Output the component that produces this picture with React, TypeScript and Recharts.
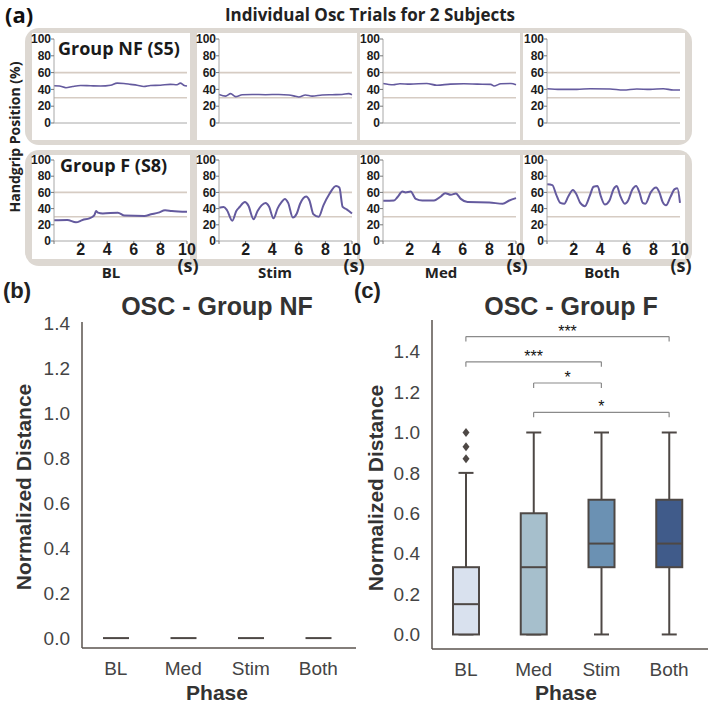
import React from "react";
import { ComposedChart, LineChart, Line, Bar, XAxis, YAxis, ReferenceLine } from "recharts";

// ---- panel (a): handgrip position traces, [time (s), position (%)] ----
const nfBaseline = [[0, 44.3], [0.4, 44], [0.9, 42], [1.4, 43.5], [2, 44.7], [2.75, 44.3], [3.5, 44], [4.25, 45], [4.75, 47.5], [5.25, 47], [5.75, 46], [6.25, 45], [6.75, 43.5], [7.25, 44.7], [8, 45], [8.75, 46], [9.25, 45.5], [9.5, 47.5], [9.75, 45], [10, 44]];
const nfStim = [[0, 34], [0.5, 32], [0.875, 35], [1.25, 31.4], [1.75, 33.7], [2.5, 34], [3.5, 33.7], [4.5, 34], [5.25, 33.3], [5.75, 31.8], [6, 31], [6.5, 33.3], [7, 32], [7.75, 33.3], [8.5, 33.7], [9.25, 34], [9.75, 35], [10, 33.7]];
const nfMed = [[0, 47], [0.76, 45.5], [1.27, 46.7], [2.03, 46.3], [3.29, 47], [4.05, 45], [5.06, 46.3], [6.08, 46.7], [7.09, 46.3], [8.1, 46], [8.35, 44], [8.86, 46.7], [9.62, 47], [10, 45.5]];
const nfBoth = [[0, 40.8], [1, 40], [2.25, 40], [3.25, 40.8], [4.75, 40.4], [5.75, 39.2], [6.75, 40.4], [7.75, 40], [8.75, 40.8], [9.5, 39.2], [10, 39.2]];

const fBaseline = [[0, 25.6], [1, 26], [1.65, 23], [2.15, 26], [2.66, 28], [2.9, 30], [3.04, 32], [3.16, 37], [3.3, 35], [3.67, 34], [4.8, 35], [5.3, 31.5], [6.8, 31], [7.3, 33], [7.85, 35], [8.35, 38], [8.86, 37], [10, 36]];
const fStim = [[0, 41], [0.35, 42], [0.6, 38], [1, 25], [1.3, 37], [1.55, 42], [1.95, 48], [2.2, 44], [2.6, 27], [2.9, 37], [3.2, 44], [3.5, 47], [3.75, 43], [4.1, 28], [4.4, 40], [4.7, 48], [4.95, 52], [5.2, 47], [5.55, 29], [5.85, 34], [6.1, 46], [6.55, 55], [6.8, 50], [7.1, 33], [7.5, 30], [7.85, 44], [8.3, 58], [8.8, 68], [9.05, 66], [9.3, 42], [9.6, 39], [10, 34]];
const fMed = [[0, 49.6], [0.83, 50], [1.08, 54], [1.46, 61], [1.7, 60], [2.08, 61], [2.46, 52], [2.96, 50], [3.84, 50], [4.35, 55], [4.67, 59], [5.1, 57], [5.48, 58.7], [5.85, 52], [6.36, 48], [8, 47.5], [9, 46], [9.5, 50], [10, 53]];
const fBoth = [[0, 70], [0.4, 69], [0.7, 57], [1, 47], [1.3, 46], [1.6, 55], [1.95, 63], [2.2, 58], [2.5, 47], [2.85, 43], [3.2, 55], [3.5, 67], [3.8, 68], [4.05, 55], [4.35, 45], [4.7, 50], [5, 64], [5.25, 68], [5.5, 56], [5.85, 46], [6.1, 50], [6.4, 63], [6.7, 68], [6.95, 60], [7.2, 47], [7.4, 46], [7.8, 60], [8.2, 66], [8.45, 60], [8.7, 48], [8.95, 44], [9.3, 55], [9.6, 64], [9.8, 65], [10, 47]];

const trialLabels = ["BL", "Stim", "Med", "Both"];
const timeTicks = [0, 2, 4, 6, 8, 10];
const positionTicks = [0, 20, 40, 60, 80, 100];
const targetBand = [30, 60];

// ---- panels (b) and (c): normalized distance box plots ----
const phases = ["BL", "Med", "Stim", "Both"];
const nfLow = [0, 0, 0, 0];
const nfQ1 = [0, 0, 0, 0];
const nfMedian = [0, 0, 0, 0];
const nfQ3 = [0, 0, 0, 0];
const nfHigh = [0, 0, 0, 0];
const nfOutliers: number[][] = [[], [], [], []];

const fLow = [0, 0, 0, 0];
const fQ1 = [0, 0, 0.333, 0.333];
const fMedian = [0.15, 0.333, 0.45, 0.45];
const fQ3 = [0.333, 0.6, 0.667, 0.667];
const fHigh = [0.8, 1.0, 1.0, 1.0];
const fOutliers: number[][] = [[0.87, 0.93, 1.0], [], [], []];

const distanceTicks = [0, 0.2, 0.4, 0.6, 0.8, 1.0, 1.2, 1.4];

const sigFrom = ["BL", "BL", "Med", "Med"];
const sigTo = ["Both", "Stim", "Stim", "Both"];
const sigLevel = [1.475, 1.35, 1.245, 1.1];
const sigStars = ["***", "***", "*", "*"];

const boxFills = ["#d9e1ee", "#a6bfcc", "#6b91b3", "#405b8a"];
const edge = "#4e4845";
const fontA = "'Open Sans', sans-serif";
const fontB = "'Liberation Sans', Arial, sans-serif";

const toPoints = (arr: number[][]) => arr.map(([t, v]) => ({ t, v }));

const boxRows = (lo: number[], q1: number[], med: number[], q3: number[], hi: number[], out: number[][]) =>
  phases.map((phase, i) => ({
    phase,
    lo: lo[i],
    q1: q1[i],
    med: med[i],
    q3: q3[i],
    hi: hi[i],
    out: out[i],
    top: Math.max(hi[i], ...out[i]),
  }));

const nfRows = boxRows(nfLow, nfQ1, nfMedian, nfQ3, nfHigh, nfOutliers);
const fRows = boxRows(fLow, fQ1, fMedian, fQ3, fHigh, fOutliers);

// the bar spans [lo, top]; inner box values are placed along that scaled span
const BoxShape = (props: any) => {
  const { x, y, width, height, payload, index } = props;
  const topPx = Math.min(y, y + height);
  const spanPx = Math.abs(height);
  const span = payload.top - payload.lo;
  const ppu = span > 0 ? spanPx / span : 0;
  const basePx = topPx + spanPx;
  const py = (v: number) => basePx - (v - payload.lo) * ppu;
  const cx = x + width / 2;
  const cap = 7.5;
  return (
    <g>
      {payload.hi > payload.lo && (
        <>
          <line x1={cx} x2={cx} y1={py(payload.lo)} y2={py(payload.hi)} stroke={edge} strokeWidth={2} />
          <line x1={cx - cap} x2={cx + cap} y1={py(payload.hi)} y2={py(payload.hi)} stroke={edge} strokeWidth={2} />
          <line x1={cx - cap} x2={cx + cap} y1={py(payload.lo)} y2={py(payload.lo)} stroke={edge} strokeWidth={2} />
        </>
      )}
      {payload.q3 > payload.q1 && (
        <rect x={x} y={py(payload.q3)} width={width} height={py(payload.q1) - py(payload.q3)} fill={boxFills[index]} stroke={edge} strokeWidth={2} />
      )}
      <line x1={x} x2={x + width} y1={py(payload.med)} y2={py(payload.med)} stroke={edge} strokeWidth={2} />
      {payload.out.map((o: number, k: number) => (
        <path key={k} d={`M${cx},${py(o) - 4.5}L${cx + 3.5},${py(o)}L${cx},${py(o) + 4.5}L${cx - 3.5},${py(o)}Z`} fill={edge} />
      ))}
    </g>
  );
};

const PLOT_X = [54, 219, 383, 547];
const PLOT_W = 133;

function TraceChart({ trace, left, top, plotH, showTime }: { trace: number[][]; left: number; top: number; plotH: number; showTime: boolean }) {
  return (
    <div style={{ position: "absolute", left: left - 40, top: top - 8 }}>
      <LineChart width={40 + PLOT_W + 14} height={8 + plotH + 26} data={toPoints(trace)} margin={{ top: 8, right: 14, left: 0, bottom: 0 }}>
        <XAxis
          type="number"
          dataKey="t"
          domain={[0, 10]}
          ticks={timeTicks}
          interval={0}
          height={26}
          tickSize={3}
          tickMargin={0}
          axisLine={{ stroke: "#a8a8a8" }}
          tickLine={{ stroke: "#777" }}
          tick={showTime ? { fontSize: 16, fontWeight: 700, fill: "#1c1c1c", fontFamily: fontB } : false}
          tickFormatter={(v) => (v === 0 ? "" : String(v))}
        />
        <YAxis
          domain={[0, 100]}
          ticks={positionTicks}
          interval={0}
          width={40}
          tickSize={3}
          tickMargin={0}
          axisLine={{ stroke: "#a8a8a8" }}
          tickLine={{ stroke: "#777" }}
          tick={{ fontSize: 12, fontWeight: 700, fill: "#1c1c1c", fontFamily: fontB }}
        />
        {targetBand.map((b) => (
          <ReferenceLine key={b} y={b} stroke="#d6ccc3" strokeWidth={1.6} />
        ))}
        <Line type="monotone" dataKey="v" stroke="#645a9e" strokeWidth={showTime ? 2 : 1.6} dot={false} isAnimationActive={false} />
      </LineChart>
    </div>
  );
}

function BoxChart({ rows, left, width, yWidth, marginTop, marginBottom, domain, padRight, brackets }: any) {
  return (
    <div style={{ position: "absolute", left, top: 280 }}>
      <ComposedChart width={width} height={425} data={rows} margin={{ top: marginTop, right: 0, left: 0, bottom: marginBottom }}>
        <XAxis
          dataKey="phase"
          height={30}
          padding={{ left: 0, right: padRight }}
          tickLine={false}
          tickSize={12}
          tickMargin={2}
          axisLine={{ stroke: "#5a534e", strokeWidth: 1.5 }}
          tick={{ fontSize: 19, fill: "#444", fontFamily: fontB }}
        />
        <YAxis
          type="number"
          domain={domain}
          ticks={distanceTicks}
          interval={0}
          allowDataOverflow
          width={yWidth}
          tickLine={false}
          tickSize={10}
          tickMargin={2}
          axisLine={{ stroke: "#5a534e", strokeWidth: 1.5 }}
          tick={{ fontSize: 19, fill: "#444", fontFamily: fontB }}
          tickFormatter={(v) => Number(v).toFixed(1)}
        />
        <Bar dataKey={(d: any) => [d.lo, d.top]} barSize={26} shape={BoxShape} isAnimationActive={false} />
        {brackets &&
          sigFrom.map((from, i) => {
            const lv = sigLevel[i];
            const drop = lv - 0.025;
            return (
              <React.Fragment key={i}>
                <ReferenceLine segment={[{ x: from, y: lv }, { x: sigTo[i], y: lv }]} stroke="#8a8a8a" strokeWidth={1.2}
                  label={{ value: sigStars[i], position: "top", offset: 0, fill: "#111", fontSize: 16, fontFamily: fontB }} />
                <ReferenceLine segment={[{ x: from, y: lv }, { x: from, y: drop }]} stroke="#8a8a8a" strokeWidth={1.2} />
                <ReferenceLine segment={[{ x: sigTo[i], y: lv }, { x: sigTo[i], y: drop }]} stroke="#8a8a8a" strokeWidth={1.2} />
              </React.Fragment>
            );
          })}
      </ComposedChart>
    </div>
  );
}

export default function App() {
  const panelsX: [number, number][] = [[32, 190], [197, 357], [360, 520], [523, 685]];
  const rowTrace = [
    [nfBaseline, nfStim, nfMed, nfBoth],
    [fBaseline, fStim, fMed, fBoth],
  ];
  const labelX = [111, 275, 441, 602];
  const secX = [188, 354, 517, 681];
  return (
    <div style={{ position: "absolute", left: 0, top: 0, width: 708, height: 705, background: "#fff", overflow: "hidden" }}>
      <svg width={708} height={705} style={{ position: "absolute", left: 0, top: 0 }}>
        <rect x={25} y={28} width={667} height={117} rx={14} fill="#ddd8d2" />
        <rect x={25} y={150} width={667} height={116} rx={14} fill="#ddd8d2" />
        {panelsX.map(([a, b], i) => (
          <React.Fragment key={i}>
            <rect x={a} y={33} width={b - a} height={107} fill="#fff" />
            <rect x={a} y={155} width={b - a} height={104} fill="#fff" />
          </React.Fragment>
        ))}
      </svg>

      {rowTrace[0].map((tr, i) => (
        <TraceChart key={"r1" + i} trace={tr} left={PLOT_X[i]} top={39} plotH={84} showTime={false} />
      ))}
      {rowTrace[1].map((tr, i) => (
        <TraceChart key={"r2" + i} trace={tr} left={PLOT_X[i]} top={160} plotH={81} showTime={true} />
      ))}

      <BoxChart rows={nfRows} left={0} width={356} yWidth={82} marginTop={42} marginBottom={27} domain={[-0.044, 1.404]} padRight={4} brackets={false} />
      <BoxChart rows={fRows} left={354} width={354} yWidth={78} marginTop={40} marginBottom={26} domain={[-0.072, 1.557]} padRight={5} brackets={true} />

      <svg width={708} height={705} style={{ position: "absolute", left: 0, top: 0, pointerEvents: "none" }}>
        <text x={5} y={23} fontFamily={fontA} fontWeight={700} fontSize={22} fill="#111">(a)</text>
        <text x={370} y={21} textAnchor="middle" fontFamily={fontA} fontWeight={700} fontSize={17} fill="#222">Individual Osc Trials for 2 Subjects</text>
        <text transform="translate(20,137) rotate(-90)" textAnchor="middle" fontFamily={fontA} fontWeight={700} fontSize={14} fill="#222">Handgrip Position (%)</text>
        <text x={58} y={55} fontFamily={fontA} fontWeight={700} fontSize={18} fill="#1a1a1a">Group NF (S5)</text>
        <text x={60} y={172} fontFamily={fontA} fontWeight={700} fontSize={18} fill="#1a1a1a">Group F (S8)</text>
        {trialLabels.map((t, i) => (
          <text key={t} x={labelX[i]} y={278} textAnchor="middle" fontFamily={fontA} fontWeight={700} fontSize={15} fill="#222">{t}</text>
        ))}
        {secX.map((x, i) => (
          <text key={i} x={x} y={272} textAnchor="middle" fontFamily={fontA} fontWeight={700} fontSize={18} fill="#222">(s)</text>
        ))}

        <text x={3} y={298} fontFamily={fontB} fontWeight={700} fontSize={22} fill="#222">(b)</text>
        <text x={217} y={315} textAnchor="middle" fontFamily={fontB} fontWeight={700} fontSize={25} fill="#333">OSC - Group NF</text>
        <text transform="translate(31,487) rotate(-90)" textAnchor="middle" fontFamily={fontB} fontWeight={700} fontSize={21} fill="#333">Normalized Distance</text>
        <text x={217} y={700} textAnchor="middle" fontFamily={fontB} fontWeight={700} fontSize={21} fill="#333">Phase</text>

        <text x={354} y={298} fontFamily={fontB} fontWeight={700} fontSize={22} fill="#222">(c)</text>
        <text x={571} y={315} textAnchor="middle" fontFamily={fontB} fontWeight={700} fontSize={25} fill="#333">OSC - Group F</text>
        <text transform="translate(383,488) rotate(-90)" textAnchor="middle" fontFamily={fontB} fontWeight={700} fontSize={21} fill="#333">Normalized Distance</text>
        <text x={566} y={700} textAnchor="middle" fontFamily={fontB} fontWeight={700} fontSize={21} fill="#333">Phase</text>
      </svg>
    </div>
  );
}
